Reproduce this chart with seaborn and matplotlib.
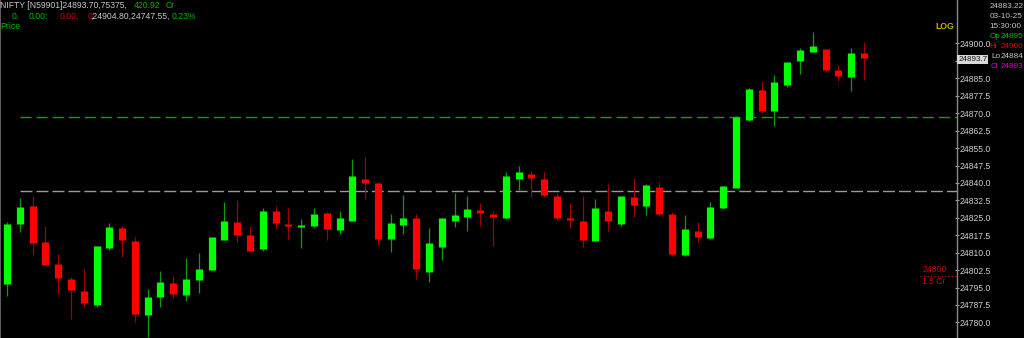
import numpy as np
import pandas as pd
import matplotlib
matplotlib.use("Agg")
import matplotlib.pyplot as plt
import seaborn as sns
import seaborn.objects as so

# ---------------- data ----------------
opens = [24796.6, 24822.4, 24830.1, 24814.6, 24805.0, 24798.7, 24793.5, 24787.7, 24812.0, 24820.6,
         24815.1, 24783.2, 24790.8, 24797.0, 24791.8, 24798.4, 24802.7, 24815.6, 24823.1, 24817.8,
         24811.7, 24827.8, 24822.2, 24821.1, 24821.4, 24827.0, 24819.8, 24823.7, 24841.6, 24839.9,
         24815.9, 24821.8, 24825.0, 24801.6, 24812.6, 24823.5, 24825.2, 24828.4, 24826.7, 24824.8,
         24841.7, 24843.7, 24841.7, 24834.5, 24824.5, 24823.5, 24815.1, 24828.1, 24822.2, 24834.0,
         24830.0, 24838.4, 24826.7, 24808.9, 24819.4, 24816.5, 24829.2, 24837.9, 24867.0, 24879.9,
         24871.0, 24882.2, 24892.3, 24896.5, 24897.6, 24888.5, 24885.6, 24895.8]
highs = [24823.4, 24833.4, 24834.4, 24821.6, 24809.3, 24799.7, 24803.0, 24813.0, 24822.9, 24821.6,
         24816.6, 24794.3, 24802.2, 24800.0, 24807.7, 24810.0, 24816.8, 24832.0, 24832.8, 24821.5,
         24829.1, 24830.1, 24829.2, 24824.5, 24829.2, 24827.3, 24828.0, 24850.5, 24851.1, 24840.3,
         24826.7, 24835.0, 24826.7, 24820.5, 24825.0, 24835.8, 24834.4, 24831.3, 24827.8, 24844.7,
         24847.3, 24845.2, 24844.6, 24835.6, 24831.3, 24834.4, 24833.1, 24839.7, 24834.5, 24842.0,
         24839.6, 24840.6, 24827.4, 24826.2, 24823.2, 24831.8, 24838.9, 24868.7, 24881.0, 24883.9,
         24886.5, 24892.2, 24898.2, 24904.8, 24897.8, 24890.6, 24897.9, 24900.6]
lows = [24791.5, 24819.1, 24809.0, 24804.5, 24792.4, 24781.4, 24786.8, 24786.5, 24811.2, 24808.3,
        24780.3, 24773.8, 24786.8, 24790.7, 24789.4, 24792.7, 24802.5, 24815.4, 24814.6, 24810.7,
        24810.9, 24820.1, 24816.0, 24812.2, 24821.2, 24815.6, 24818.2, 24823.5, 24833.2, 24813.3,
        24810.2, 24817.9, 24798.7, 24797.4, 24807.0, 24821.1, 24819.4, 24821.5, 24813.0, 24824.6,
        24836.9, 24834.0, 24834.1, 24824.1, 24820.8, 24812.3, 24814.9, 24819.4, 24821.5, 24825.5,
        24826.1, 24826.3, 24808.6, 24808.7, 24814.6, 24815.9, 24828.8, 24837.7, 24866.8, 24870.0,
        24864.5, 24881.4, 24886.9, 24896.3, 24888.3, 24883.7, 24879.7, 24884.4]
closes = [24822.4, 24829.8, 24814.2, 24804.7, 24799.3, 24794.0, 24788.4, 24812.9, 24821.1, 24815.6,
          24783.7, 24791.0, 24797.3, 24792.3, 24798.6, 24802.9, 24816.6, 24823.7, 24817.6, 24810.9,
          24827.8, 24822.8, 24821.8, 24821.8, 24826.7, 24820.2, 24824.8, 24842.9, 24840.0, 24815.9,
          24822.7, 24824.8, 24803.0, 24814.1, 24824.8, 24826.4, 24828.9, 24827.0, 24825.2, 24843.1,
          24844.6, 24842.0, 24835.0, 24825.1, 24824.2, 24815.6, 24829.2, 24823.8, 24834.3, 24830.5,
          24839.0, 24826.5, 24809.3, 24820.2, 24816.8, 24829.8, 24838.7, 24868.5, 24880.6, 24871.0,
          24883.3, 24892.0, 24897.2, 24899.1, 24888.6, 24885.9, 24896.0, 24893.7]
y_ticks = [24780.0, 24787.5, 24795.0, 24802.5, 24810.0, 24817.5, 24825.0, 24832.5, 24840.0,
           24847.5, 24855.0, 24862.5, 24870.0, 24877.5, 24885.0, 24892.5, 24900.0]
support_level = 24836.6
resistance_level = 24868.3
alert_level = 24800.0
last_price = 24893.7

# ---------------- style ----------------
sns.set_theme(style="dark", rc={
    "axes.facecolor": "black", "figure.facecolor": "black",
    "axes.edgecolor": "#808080", "lines.solid_capstyle": "butt",
})
plt.rcParams["font.family"] = ["Liberation Sans", "DejaVu Sans"]

W, H = 1024, 338
fig = plt.figure(figsize=(W / 100, H / 100), dpi=100)
ax = fig.add_axes([0, 0, 957 / W, 1])
ax.set_facecolor("black")

n = len(opens)
df = pd.DataFrame({"i": np.arange(n), "open": opens, "high": highs,
                   "low": lows, "close": closes})
df["up"] = df["close"] >= df["open"]
lo = np.minimum(df["open"], df["close"])
hi = np.maximum(df["open"], df["close"])
mid = (lo + hi) / 2
small = (hi - lo) < 0.8
df["body_lo"] = np.where(small, mid - 0.4, lo)
df["body_hi"] = np.where(small, mid + 0.4, hi)
up = df[df["up"]]
dn = df[~df["up"]]

WICK_UP, WICK_DN = "#109a10", "#a00000"
BODY_UP, BODY_DN = "#00ff00", "#ff0000"

(
    so.Plot()
    .add(so.Range(color=WICK_UP, linewidth=0.9, artist_kws={"capstyle": "butt"}),
         data=up, x="i", ymin="low", ymax="high")
    .add(so.Range(color=WICK_DN, linewidth=0.9, artist_kws={"capstyle": "butt"}),
         data=dn, x="i", ymin="low", ymax="high")
    .add(so.Range(color=BODY_UP, linewidth=5.2, artist_kws={"capstyle": "butt"}),
         data=up, x="i", ymin="body_lo", ymax="body_hi")
    .add(so.Range(color=BODY_DN, linewidth=5.2, artist_kws={"capstyle": "butt"}),
         data=dn, x="i", ymin="body_lo", ymax="body_hi")
    .on(ax)
    .plot()
)

x0, x1 = -0.547, 74.28
ax.set_xlim(x0, x1)
ax.set_ylim(24773.3, 24918.7)
ax.set_xlabel("")
ax.set_ylabel("")
ax.grid(False)
ax.set_xticks([])

# horizontal levels
ax.hlines(support_level, 1.0, x1, colors="#9a9a9a", linewidth=1.0,
          linestyles=[(0, (8.6, 2.9))], zorder=1)
ax.hlines(resistance_level, 1.0, x1, colors="#12a012", linewidth=1.0,
          linestyles=[(0, (8.0, 3.6))], zorder=1)
ax.hlines(alert_level, 71.4, x1, colors="#c00000", linewidth=1.0,
          linestyles=[(0, (1, 1.5))], zorder=1)

# right price axis (the 24892.5 label sits hidden behind the last-price box)
ax.yaxis.tick_right()
tick_labels = ["" if abs(t - last_price) < 3 else f"{t:.1f}" for t in y_ticks]
ax.set_yticks(y_ticks, labels=tick_labels,
              fontsize=6.2, color="#d0d0d0", family=["Liberation Sans", "DejaVu Sans"])
ax.tick_params(axis="y", which="major", direction="inout", length=3, width=0.8,
               color="#a0a0a0", pad=0.5, right=True, left=False, labelright=True,
               labelleft=False)
for s in ["top", "bottom"]:
    ax.spines[s].set_visible(False)
ax.spines["left"].set_color("#707070")
ax.spines["right"].set_color("#8a8a8a")
ax.spines["left"].set_linewidth(1.2)
ax.spines["right"].set_linewidth(1.0)

# ---------------- texts ----------------
FS = 6.2
def ptext(x, y, s, color, **kw):
    fig.text(x / W, 1 - y / H, s, color=color, fontsize=kw.pop("fontsize", FS),
             va="center", ha=kw.pop("ha", "left"), **kw)

GRAY, GREEN, RED = "#c8c8c8", "#00b800", "#c80000"
ptext(0, 6, "NIFTY [N59901]24893.70,75375,", GRAY)
ptext(134, 6, "420.92", GREEN)
ptext(165.5, 6, "Cr", GREEN)
ptext(11.5, 16.7, "0,", GREEN)
ptext(28.3, 16.7, "0.00:", GREEN)
ptext(59.3, 16.7, "0.00,", RED)
ptext(87.3, 16.7, "0", RED)
ptext(90.5, 16.7, ",24904.80,24747.55,", GRAY)
ptext(172, 16.7, "0.23%", GREEN)
ptext(0, 26.7, "Price", GREEN)

ptext(954.5, 26.7, "LOG", "#c8b400", ha="right", fontweight="bold")

RFS = 5.9
ptext(989.5, 6, "24883.22", GRAY, fontsize=RFS)
ptext(989.5, 16, "03-10-25", GRAY, fontsize=RFS)
ptext(989.5, 26, "15:30:00", GRAY, fontsize=RFS)
ptext(989.5, 36, "Op", GREEN, fontsize=RFS)
ptext(1000.5, 36, "24895", GREEN, fontsize=RFS)
ptext(989.5, 46, "Hi", "#e00000", fontsize=RFS)
ptext(1000.5, 46, "24900", "#e00000", fontsize=RFS)
ptext(991, 56, "Lo", GRAY, fontsize=RFS)
ptext(1000.5, 56, "24884", GRAY, fontsize=RFS)
ptext(991, 66, "Cl", "#d000d0", fontsize=RFS)
ptext(1000.5, 66, "24893", "#d000d0", fontsize=RFS)

ptext(958.3, 59.5, f"{last_price:.1f}", "#111111", fontsize=5.8,
      bbox=dict(boxstyle="square,pad=0.12", facecolor="#d8d8d8", edgecolor="none"))

ptext(922.5, 269.3, "24800", RED)
ptext(922.5, 281.5, "1.5 Cr", RED)

fig.savefig("out.png", dpi=100, facecolor="black")
